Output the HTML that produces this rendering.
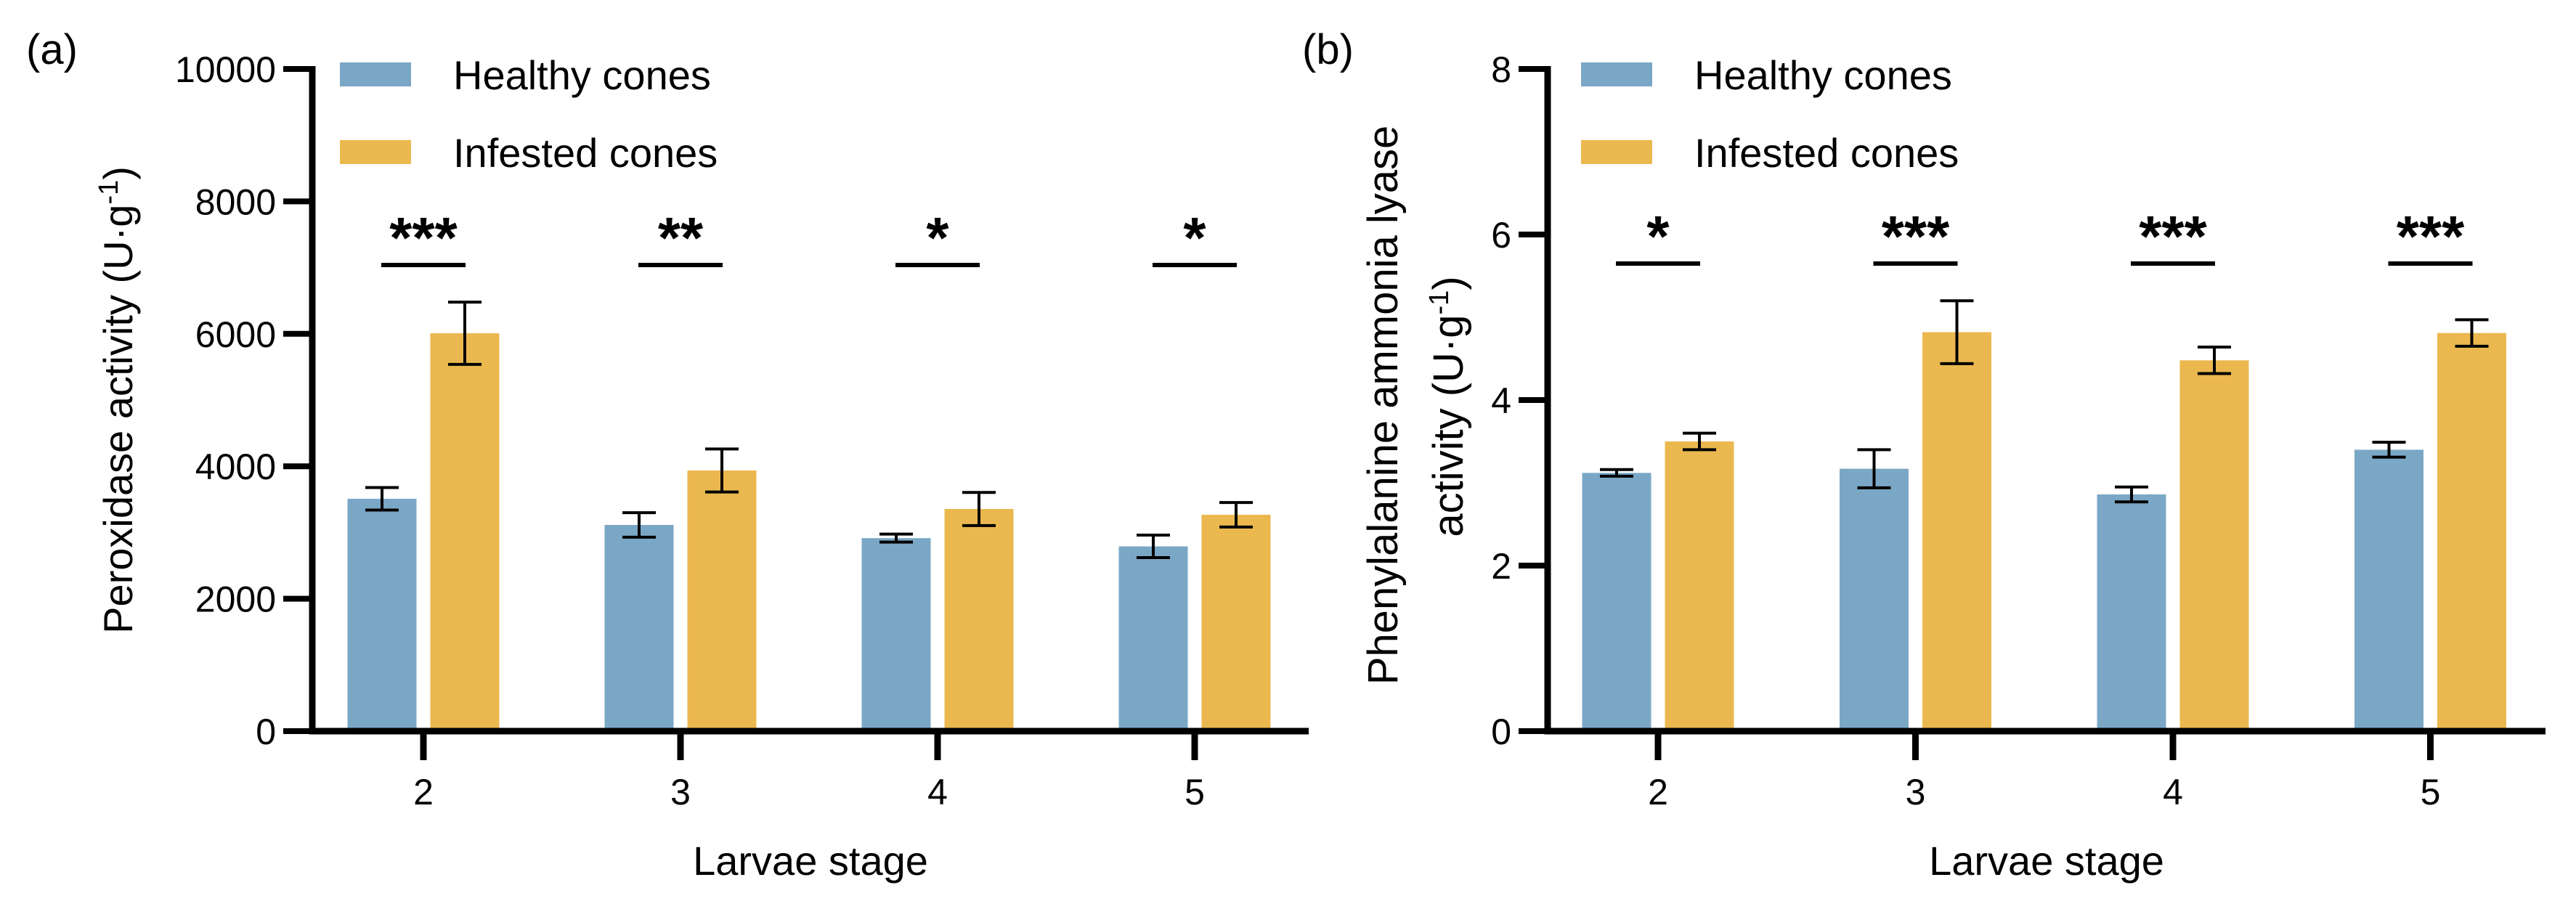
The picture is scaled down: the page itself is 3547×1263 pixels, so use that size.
<!DOCTYPE html>
<html><head><meta charset="utf-8"><style>
html,body{margin:0;padding:0;background:#fff;}
svg{display:block;font-family:"Liberation Sans",Arial,sans-serif;}
</style></head><body>
<svg id="fig" width="3547" height="1263" viewBox="0 0 3547 1263"></svg>
<script>
const categories = ["2","3","4","5"];
const podHealthy = [3509, 3114, 2915, 2790];
const podHealthyErr = [170, 185, 60, 170];
const podInfested = [6009, 3936, 3355, 3268];
const podInfestedErr = [470, 325, 250, 185];
const podSig = ["***","**","*","*"];
const podTicks = [0,2000,4000,6000,8000,10000];
const palHealthy = [3.12, 3.17, 2.86, 3.40];
const palHealthyErr = [0.04, 0.23, 0.09, 0.09];
const palInfested = [3.50, 4.82, 4.48, 4.81];
const palInfestedErr = [0.10, 0.38, 0.16, 0.16];
const palSig = ["*","***","***","***"];
const palTicks = [0,2,4,6,8];

const NS="http://www.w3.org/2000/svg";
const svg=document.getElementById('fig');
function mk(tag,attrs,parent){const e=document.createElementNS(NS,tag);for(const k in attrs)e.setAttribute(k,attrs[k]);(parent||svg).appendChild(e);return e;}

function panel(cfg){
  const g=mk('g',{});
  
  
  const y0=1007,yTop=95,ax=cfg.axisX,xEnd=cfg.xEnd;
  const ymax=cfg.ticks[cfg.ticks.length-1];
  const Y=v=>y0-(v/ymax)*(y0-yTop);
  const X=i=>cfg.first+i*cfg.step;
  const bw=95,gap=19;
  categories.forEach((c,i)=>{
    const cx=X(i);
    [[cfg.h,cfg.he,'#7ba7c6',cx-gap/2-bw,'healthy'],[cfg.inf,cfg.infe,'#ebb84f',cx+gap/2,'infested']].forEach(([vals,errs,col,x,nm])=>{
      const v=vals[i],e=errs[i];
      const r=mk('rect',{x:x,y:Y(v),width:bw,height:y0-Y(v),fill:col},g);
      
      
      const bx=x+bw/2;
      const eb=mk('path',{d:`M${bx} ${Y(v+e)}V${Y(v-e)}M${bx-23} ${Y(v+e)}h46M${bx-23} ${Y(v-e)}h46`,stroke:'#000','stroke-width':4,fill:'none'},g);
      
      
    });
    const sl=mk('line',{x1:cx-58,x2:cx+58,y1:cfg.sigY,y2:cfg.sigY,stroke:'#000','stroke-width':6},g);
    
    
    const st=mk('text',{x:cx,y:cfg.sigY-10,'text-anchor':'middle','font-size':80,'font-weight':'bold'},g);
    st.textContent=cfg.sig[i];
    
    
    const tk=mk('line',{x1:cx,x2:cx,y1:y0,y2:y0+40,stroke:'#000','stroke-width':9},g);
    
    
    const tl=mk('text',{x:cx,y:1108,'text-anchor':'middle','font-size':50},g);
    tl.textContent=c;
    
    
  });
  cfg.ticks.forEach(t=>{
    const l=mk('line',{x1:ax-40,x2:ax,y1:Y(t),y2:Y(t),stroke:'#000','stroke-width':8},g);
    
    
    const tx=mk('text',{x:ax-50,y:Y(t)+18,'text-anchor':'end','font-size':50},g);
    tx.textContent=t;
    
    
  });
  const axes=mk('path',{d:`M${ax} ${yTop-4}V${y0}H${xEnd}`,stroke:'#000','stroke-width':9,fill:'none'},g);
  
  
  const xt=mk('text',{x:(ax+xEnd)/2,y:1205,'text-anchor':'middle','font-size':56},g);
  xt.textContent='Larvae stage';
  
  
  [['#7ba7c6','Healthy cones',86],['#ebb84f','Infested cones',193]].forEach(([col,lab,y],k)=>{
    const lr=mk('rect',{x:cfg.legX,y:y,width:98,height:33,fill:col},g);
    
    
    const lt=mk('text',{x:cfg.legX+156,y:y+37,'font-size':56},g);
    lt.textContent=lab;
    
    
  });
  const pl=mk('text',{x:cfg.labX,y:88,'font-size':58},g);
  pl.textContent=cfg.label;
  
  
  return g;
}

panel({name:'panel-a-peroxidase',axisX:430,xEnd:1802,first:583,step:354,h:podHealthy,he:podHealthyErr,inf:podInfested,infe:podInfestedErr,sig:podSig,ticks:podTicks,sigY:365,legX:468,labX:36,label:'(a)'});
panel({name:'panel-b-pal',axisX:2131,xEnd:3505,first:2283,step:354.5,h:palHealthy,he:palHealthyErr,inf:palInfested,infe:palInfestedErr,sig:palSig,ticks:palTicks,sigY:363,legX:2177,labX:1793,label:'(b)'});

const ya=mk('text',{transform:'translate(182,551) rotate(-90)','text-anchor':'middle','font-size':56});
ya.innerHTML='Peroxidase activity (U·g<tspan dy="-20" font-size="38">-1</tspan><tspan dy="20">)</tspan>';


const yb1=mk('text',{transform:'translate(1924,558) rotate(-90)','text-anchor':'middle','font-size':58});
yb1.textContent='Phenylalanine ammonia lyase';


const yb2=mk('text',{transform:'translate(2014,560) rotate(-90)','text-anchor':'middle','font-size':58});
yb2.innerHTML='activity (U·g<tspan dy="-20" font-size="38">-1</tspan><tspan dy="20">)</tspan>';


</script>
</body></html>
